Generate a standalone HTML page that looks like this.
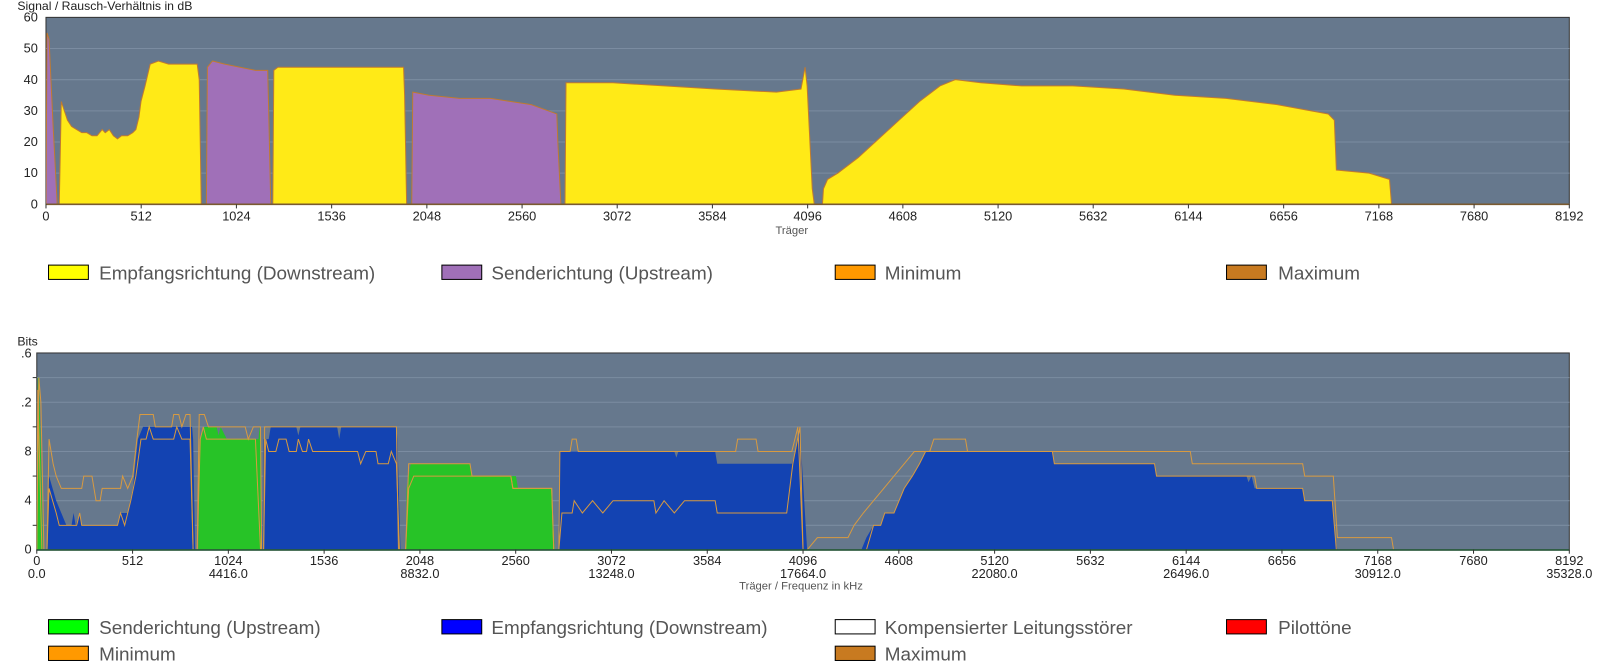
<!DOCTYPE html>
<html><head><meta charset="utf-8"><style>
html,body{margin:0;padding:0;background:#fff;}
svg{display:block;}
text{font-family:"Liberation Sans",sans-serif;}
</style></head><body>
<svg width="1602" height="671" viewBox="0 0 1568 656.8" preserveAspectRatio="none" xmlns="http://www.w3.org/2000/svg">
<defs>
<clipPath id="c1"><rect x="45" y="17" width="1491" height="183"/></clipPath>
<clipPath id="c2"><rect x="36" y="345" width="1500" height="193"/></clipPath>
</defs>
<!-- TOP CHART -->
<rect x="45" y="17" width="1491" height="183" fill="#66788d" stroke="#333" stroke-width="1"/>
<g stroke="#7b8ca1" stroke-width="1">
<line x1="45" x2="1536" y1="47.5" y2="47.5"/><line x1="45" x2="1536" y1="78" y2="78"/><line x1="45" x2="1536" y1="108.5" y2="108.5"/><line x1="45" x2="1536" y1="139" y2="139"/><line x1="45" x2="1536" y1="169.5" y2="169.5"/>
</g>
<g clip-path="url(#c1)">
<g transform="translate(0,200) scale(1,-3.05)" stroke="#c07a30" stroke-width="1">
<polygon vector-effect="non-scaling-stroke" fill="#a070b8" points="45,0 46,55 48,53 52,25 56,0"/>
<polygon vector-effect="non-scaling-stroke" fill="#ffea17" points="58,0 60,33 63,30 66,27 70,25 75,24 80,23 85,23 90,22 95,22 100,24 103,23 107,24 111,22 115,21 119,22 125,22 130,23 133,24 136,28 138,33 142,38 147,45 155,46 165,45 180,45 193,45 195,40 197,0"/>
<polygon vector-effect="non-scaling-stroke" fill="#a070b8" points="202,0 203,44 208,46 220,45 235,44 250,43 262,43 263,30 265,0"/>
<polygon vector-effect="non-scaling-stroke" fill="#ffea17" points="267,0 268,43 272,44 300,44 330,44 360,44 395,44 396,35 398,0"/>
<polygon vector-effect="non-scaling-stroke" fill="#a070b8" points="403,0 404,36 420,35 450,34 480,34 500,33 520,32 545,29 546,20 549,0"/>
<polygon vector-effect="non-scaling-stroke" fill="#ffea17" points="553,0 554,39 600,39 650,38 700,37 760,36 784,37 788,44 790,38 795,5 797,0"/>
<polygon vector-effect="non-scaling-stroke" fill="#ffea17" points="805,0 806,5 810,8 820,10 840,15 860,21 880,27 900,33 920,38 935,40 960,39 1000,38 1050,38 1100,37 1150,35 1200,34 1250,32 1300,29 1306,27 1308,11 1340,10 1360,8 1362,0"/>
</g>
</g>
<line x1="45" x2="1536" y1="200" y2="200" stroke="#7a5a30" stroke-width="1.5"/>
<g font-size="12.5" fill="#222" text-anchor="end">
<text x="37" y="21">60</text><text x="37" y="51.5">50</text><text x="37" y="82">40</text><text x="37" y="112.5">30</text><text x="37" y="143">20</text><text x="37" y="173.5">10</text><text x="37" y="204">0</text>
</g>
<g font-size="12.5" fill="#222" text-anchor="middle">
<text x="45" y="216">0</text><text x="138.2" y="216">512</text><text x="231.4" y="216">1024</text><text x="324.6" y="216">1536</text><text x="417.8" y="216">2048</text><text x="511" y="216">2560</text><text x="604.1" y="216">3072</text><text x="697.3" y="216">3584</text><text x="790.5" y="216">4096</text><text x="883.7" y="216">4608</text><text x="976.9" y="216">5120</text><text x="1070" y="216">5632</text><text x="1163.2" y="216">6144</text><text x="1256.4" y="216">6656</text><text x="1349.6" y="216">7168</text><text x="1442.8" y="216">7680</text><text x="1536" y="216">8192</text>
</g>
<g stroke="#333" stroke-width="1">
<line x1="45" x2="45" y1="200" y2="204"/><line x1="138.2" x2="138.2" y1="200" y2="204"/><line x1="231.4" x2="231.4" y1="200" y2="204"/><line x1="324.6" x2="324.6" y1="200" y2="204"/><line x1="417.8" x2="417.8" y1="200" y2="204"/><line x1="511" x2="511" y1="200" y2="204"/><line x1="604.1" x2="604.1" y1="200" y2="204"/><line x1="697.3" x2="697.3" y1="200" y2="204"/><line x1="790.5" x2="790.5" y1="200" y2="204"/><line x1="883.7" x2="883.7" y1="200" y2="204"/><line x1="976.9" x2="976.9" y1="200" y2="204"/><line x1="1070" x2="1070" y1="200" y2="204"/><line x1="1163.2" x2="1163.2" y1="200" y2="204"/><line x1="1256.4" x2="1256.4" y1="200" y2="204"/><line x1="1349.6" x2="1349.6" y1="200" y2="204"/><line x1="1442.8" x2="1442.8" y1="200" y2="204"/><line x1="1536" x2="1536" y1="200" y2="204"/>
</g>
<text x="17" y="10" font-size="12" fill="#222">Signal / Rausch-Verhältnis in dB</text>
<text x="775" y="229" font-size="11" fill="#555" text-anchor="middle">Träger</text>
<!-- top legend -->
<g stroke="#000" stroke-width="1">
<rect x="47.5" y="259.5" width="39" height="14" fill="#ffff00"/>
<rect x="432.5" y="259.5" width="39" height="14" fill="#a070b8"/>
<rect x="817.5" y="259.5" width="39" height="14" fill="#ff9900"/>
<rect x="1200.5" y="259.5" width="39" height="14" fill="#c87a20"/>
</g>
<g font-size="18.5" fill="#555">
<text x="97" y="273.5">Empfangsrichtung (Downstream)</text>
<text x="481" y="273.5">Senderichtung (Upstream)</text>
<text x="866" y="273.5">Minimum</text>
<text x="1251" y="273.5">Maximum</text>
</g>
<!-- BOTTOM CHART -->
<rect x="36" y="345.5" width="1500" height="193" fill="#66788d" stroke="#333" stroke-width="1"/>
<g stroke="#7b8ca1" stroke-width="1">
<line x1="36" x2="1536" y1="369.6" y2="369.6"/><line x1="36" x2="1536" y1="393.7" y2="393.7"/><line x1="36" x2="1536" y1="417.8" y2="417.8"/><line x1="36" x2="1536" y1="441.9" y2="441.9"/><line x1="36" x2="1536" y1="466" y2="466"/><line x1="36" x2="1536" y1="490.1" y2="490.1"/><line x1="36" x2="1536" y1="514.2" y2="514.2"/>
</g>
<g clip-path="url(#c2)">
<g transform="translate(0,538.3) scale(1,-12.05)">
<polygon fill="#27c327" points="36,0 37,14 38,14 40,8 42,0"/>
<polygon fill="#1343b2" points="46,0 48,6 55,4 60,3 65,2 70,2 72,3 74,2 78,3 80,2 115,2 118,3 125,3 130,5 135,9 140,10 188,10 189,9 191,0"/>
<polygon fill="#27c327" points="194,0 196,9 200,10 212,10 214,9.3 216,10 222,9 253,9 254,10 255,9 256,0"/>
<polygon fill="#1343b2" points="257,0 258,9 263,9 265,10 290,10 292,9.3 294,10 330,10 332,9 334,10 388,10 389,9 392,0"/>
<polygon fill="#27c327" points="397,0 398,5 402,7 460,7 462,6 505,6 507,5 540,5 541,3 543,0"/>
<polygon fill="#1343b2" points="547,0 548,8 600,8 660,8 662,7.5 664,8 700,8 702,7 775,7 779,8 782,10 785,7 790,0"/>
<polygon fill="#1343b2" points="843,0 848,1 855,2 862,2 866,3 875,3 880,4 885,5 893,6 900,7 906,8 915,8 1030,8 1032,7 1130,7 1132,6 1220,6 1222,5.5 1225,6 1228,5 1275,5 1277,4 1304,4 1307,1 1309,0"/>
</g>
<g transform="translate(0,538.3) scale(1,-12.05)" fill="none" stroke="#d89a40">
<polyline vector-effect="non-scaling-stroke" points="36,0 38,14 40,12 43,0 46,0 48,9 52,7 55,6 60,5 80,5 82,6 90,6 94,4 98,4 100,5 118,5 120,6 125,5 130,6 134,9 137,11 150,11 152,10 168,10 170,11 175,11 178,10 182,11 186,11 189,0 193,0 195,11 200,11 204,10 240,10 243,9 248,10 255,10 256,0 258,0 259,10 388,10 390,0 397,0 400,7 460,7 462,6 500,6 502,5 540,5 542,0 547,0 548,8 558,8 560,9 564,9 566,8 720,8 722,9 740,9 742,8 775,8 781,10 786,0 790,0 800,1 830,1 836,2 845,3 855,4 865,5 875,6 885,7 895,8 910,8 914,9 945,9 947,8 1165,8 1167,7 1275,7 1277,6 1305,6 1309,1 1362,1 1364,0 1536,0"/>
<polyline vector-effect="non-scaling-stroke" points="36,0 37,13 41,0 46,0 48,5 55,3 58,2 75,2 78,3 80,2 115,2 118,3 122,2 125,3 128,4 133,6 138,9 143,9 146,10 150,9 170,9 173,10 178,9 186,9 189,0 193,0 196,9 199,10 202,9 250,9 255,0 258,0 260,9 263,8 270,8 273,9 280,9 283,8 290,8 292,9 296,8 300,8 302,9 306,8 350,8 353,7 358,8 368,8 370,7 380,7 383,8 388,7 391,0 397,0 400,5 405,6 500,6 502,5 540,5 542,0 547,0 550,3 560,3 562,4 570,3 580,4 590,3 600,4 640,4 642,3 650,4 660,3 670,4 700,4 702,3 770,3 776,7 783,10 786,0 843,0 848,0 855,2 862,2 866,3 875,3 880,4 885,5 893,6 900,7 906,8 1030,8 1032,7 1130,7 1132,6 1228,6 1230,5 1275,5 1277,4 1304,4 1308,0 1536,0"/>
</g>
</g>
<line x1="36" x2="1536" y1="538.3" y2="538.3" stroke="#285a3a" stroke-width="1.5"/>
<g font-size="12.5" fill="#222" text-anchor="end">
<text x="31" y="350">.6</text><text x="31" y="398">.2</text><text x="31" y="446">8</text><text x="31" y="494">4</text><text x="31" y="542">0</text>
</g>
<g stroke="#333" stroke-width="1">
<line x1="32" x2="36" y1="369.6" y2="369.6"/><line x1="32" x2="36" y1="417.8" y2="417.8"/><line x1="32" x2="36" y1="466" y2="466"/><line x1="32" x2="36" y1="514.2" y2="514.2"/>
</g>
<g font-size="12.5" fill="#222" text-anchor="middle">
<text x="36" y="553">0</text><text x="129.75" y="553">512</text><text x="223.5" y="553">1024</text><text x="317.25" y="553">1536</text><text x="411" y="553">2048</text><text x="504.75" y="553">2560</text><text x="598.5" y="553">3072</text><text x="692.25" y="553">3584</text><text x="786" y="553">4096</text><text x="879.75" y="553">4608</text><text x="973.5" y="553">5120</text><text x="1067.25" y="553">5632</text><text x="1161" y="553">6144</text><text x="1254.75" y="553">6656</text><text x="1348.5" y="553">7168</text><text x="1442.25" y="553">7680</text><text x="1536" y="553">8192</text>
<text x="36" y="566">0.0</text><text x="223.5" y="566">4416.0</text><text x="411" y="566">8832.0</text><text x="598.5" y="566">13248.0</text><text x="786" y="566">17664.0</text><text x="973.5" y="566">22080.0</text><text x="1161" y="566">26496.0</text><text x="1348.5" y="566">30912.0</text><text x="1536" y="566">35328.0</text>
</g>
<g stroke="#333" stroke-width="1">
<line x1="36" x2="36" y1="538" y2="542"/><line x1="129.75" x2="129.75" y1="538" y2="542"/><line x1="223.5" x2="223.5" y1="538" y2="542"/><line x1="317.25" x2="317.25" y1="538" y2="542"/><line x1="411" x2="411" y1="538" y2="542"/><line x1="504.75" x2="504.75" y1="538" y2="542"/><line x1="598.5" x2="598.5" y1="538" y2="542"/><line x1="692.25" x2="692.25" y1="538" y2="542"/><line x1="786" x2="786" y1="538" y2="542"/><line x1="879.75" x2="879.75" y1="538" y2="542"/><line x1="973.5" x2="973.5" y1="538" y2="542"/><line x1="1067.25" x2="1067.25" y1="538" y2="542"/><line x1="1161" x2="1161" y1="538" y2="542"/><line x1="1254.75" x2="1254.75" y1="538" y2="542"/><line x1="1348.5" x2="1348.5" y1="538" y2="542"/><line x1="1442.25" x2="1442.25" y1="538" y2="542"/><line x1="1536" x2="1536" y1="538" y2="542"/>
</g>
<rect x="1559" y="555" width="9" height="14" fill="#fff"/>
<text x="17" y="338" font-size="12" fill="#222">Bits</text>
<text x="784" y="577" font-size="11" fill="#555" text-anchor="middle">Träger / Frequenz in kHz</text>
<!-- bottom legend -->
<g stroke="#000" stroke-width="1">
<rect x="47.5" y="606.5" width="39" height="14" fill="#00ff00"/>
<rect x="432.5" y="606.5" width="39" height="14" fill="#0000ff"/>
<rect x="817.5" y="606.5" width="39" height="14" fill="#ffffff"/>
<rect x="1200.5" y="606.5" width="39" height="14" fill="#ff0000"/>
<rect x="47.5" y="632.5" width="39" height="14" fill="#ff9900"/>
<rect x="817.5" y="632.5" width="39" height="14" fill="#c87a20"/>
</g>
<g font-size="18.5" fill="#555">
<text x="97" y="620.5">Senderichtung (Upstream)</text>
<text x="481" y="620.5">Empfangsrichtung (Downstream)</text>
<text x="866" y="620.5">Kompensierter Leitungsstörer</text>
<text x="1251" y="620.5">Pilottöne</text>
<text x="97" y="646.5">Minimum</text>
<text x="866" y="646.5">Maximum</text>
</g>
</svg>
</body></html>
